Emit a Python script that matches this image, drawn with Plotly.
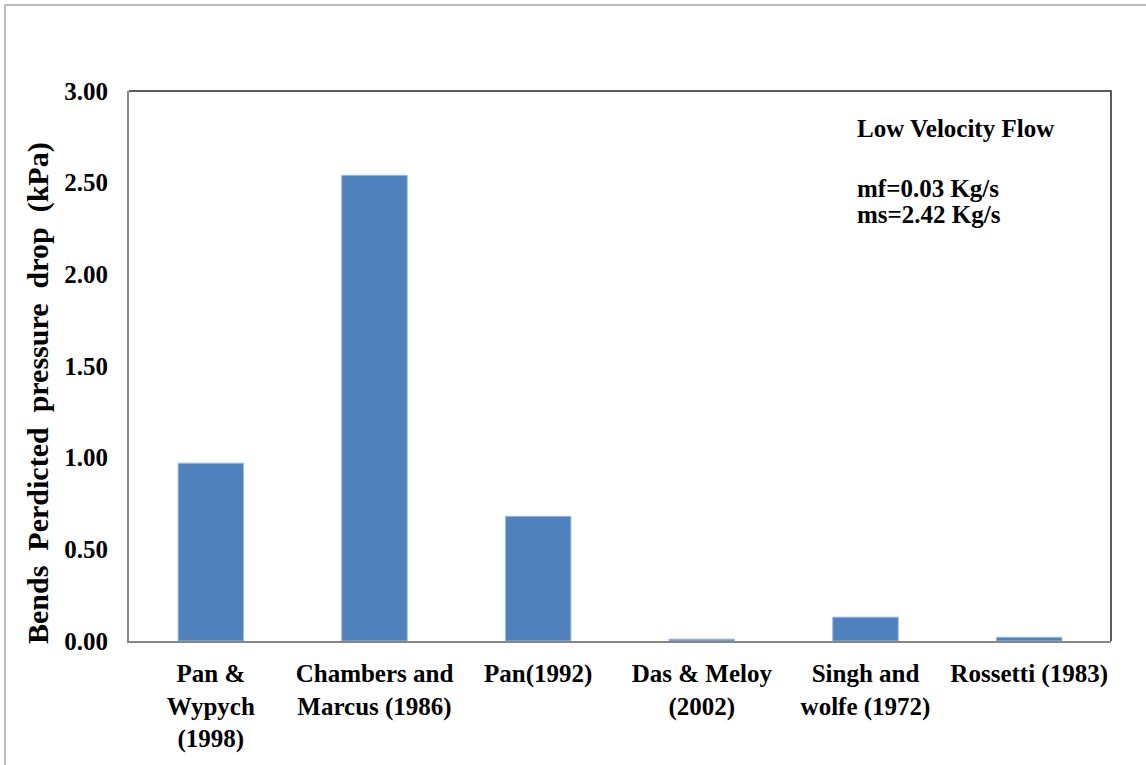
import plotly.graph_objects as go

categories = ["Pan &<br>Wypych<br>(1998)", "Chambers and<br>Marcus (1986)", "Pan(1992)",
              "Das & Meloy<br>(2002)", "Singh and<br>wolfe (1972)", "Rossetti (1983)"]
values = [0.97, 2.54, 0.68, 0.01, 0.13, 0.02]
y_ticks = [0.0, 0.5, 1.0, 1.5, 2.0, 2.5, 3.0]

FONT = "Liberation Serif, Times New Roman, serif"
fs = 25

fig = go.Figure()
fig.add_trace(go.Bar(
    x=categories, y=values,
    marker=dict(color="#4F81BD", line=dict(color="#9BB7DD", width=1)),
))

W, H = 1146, 765
RL, RR, RT, RB = 129, 1111, 91, 641
L = RL
T = RT
R = W - RR
B = H - RB
pw, ph = RR - RL, RB - RT

def px(x):
    return (x - RL) / pw

def py(y):
    return (RB - y) / ph

sp = "&nbsp;"
ytitle = f"<b>Bends{sp*2}Perdicted{sp*2}pressure{sp*2}drop{sp*2}(kPa)</b>"

fig.update_layout(
    width=W, height=H,
    margin=dict(l=L, r=R, t=T, b=B),
    paper_bgcolor="white", plot_bgcolor="white",
    showlegend=False,
    bargap=0.6,
    font=dict(family=FONT, size=fs, color="black"),
    xaxis=dict(showline=True, linecolor="#868686", linewidth=2, ticks="",
               showgrid=False, tickfont=dict(family=FONT, size=fs, color="black", weight="bold"),
               ticklabelstandoff=9),
    yaxis=dict(range=[0, 3], tickvals=y_ticks, tickformat=".2f", showline=True,
               linecolor="#868686", linewidth=2, ticks="", showgrid=False, zeroline=False,
               tickfont=dict(family=FONT, size=fs, color="black", weight="bold"),
               ticklabelstandoff=14),
    shapes=[
        dict(type="path", xref="paper", yref="paper",
             path="M 0,1 L 1,1 L 1,0", line=dict(color="#262626", width=1.5)),
        dict(type="rect", xref="paper", yref="paper",
             x0=px(5), y0=py(775), x1=px(1160), y1=py(5),
             line=dict(color="#A6A6A6", width=1.5)),
    ],
    annotations=[
        dict(text=ytitle, xref="paper", yref="paper",
             x=px(38), y=py(393), textangle=-90, showarrow=False,
             xanchor="center", yanchor="middle", font=dict(family=FONT, size=30)),
        dict(text="<b>Low Velocity Flow</b>", xref="paper", yref="paper",
             x=px(855), y=py(128), showarrow=False, xanchor="left", yanchor="middle",
             font=dict(family=FONT, size=fs)),
        dict(text="<b>mf=0.03 Kg/s</b>", xref="paper", yref="paper",
             x=px(855), y=py(188), showarrow=False, xanchor="left", yanchor="middle",
             font=dict(family=FONT, size=fs)),
        dict(text="<b>ms=2.42 Kg/s</b>", xref="paper", yref="paper",
             x=px(855), y=py(214), showarrow=False, xanchor="left", yanchor="middle",
             font=dict(family=FONT, size=fs)),
    ],
)

fig.write_html("out.html", config={"displayModeBar": False},
               post_script="document.body.style.margin='0px';")
